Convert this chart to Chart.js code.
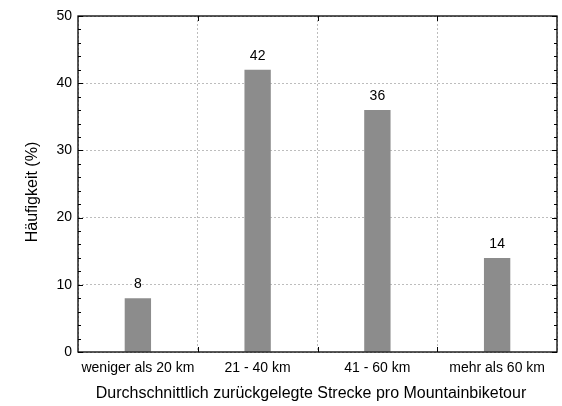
<!DOCTYPE html>
<html>
<head>
<meta charset="utf-8">
<script src="https://cdn.jsdelivr.net/npm/chart.js@4/dist/chart.umd.min.js"></script>
<style>
  html, body { margin: 0; padding: 0; background: #fff; }
  #wrap { width: 562px; height: 406px; }
</style>
</head>
<body>
<div id="wrap"><canvas id="c" width="562" height="406"></canvas></div>
<script>
// Durchschnittliche Strecke pro Mountainbiketour
const categories = ['weniger als 20 km', '21 - 40 km', '41 - 60 km', 'mehr als 60 km'];
const shares = [8, 42, 36, 14];
const yTicks = [0, 10, 20, 30, 40, 50];
const yMinorStep = 2;
const xTitle = 'Durchschnittlich zurückgelegte Strecke pro Mountainbiketour';
const yTitle = 'Häufigkeit (%)';

const FONT = 'Arial, "Liberation Sans", sans-serif';

// Frame, inward ticks, value labels and axis titles
const framePlugin = {
  id: 'frame',
  afterDatasetsDraw(chart) {
    const { ctx, chartArea: a, scales: { x, y } } = chart;
    ctx.save();
    ctx.strokeStyle = '#000';
    ctx.lineWidth = 1.3;
    ctx.strokeRect(a.left, a.top, a.right - a.left, a.bottom - a.top);

    ctx.lineWidth = 1;
    ctx.beginPath();
    for (let v = y.min; v <= y.max + 1e-9; v += yMinorStep) {
      const py = Math.round(y.getPixelForValue(v)) + 0.5;
      const major = yTicks.includes(v);
      const len = major ? 5 : 3;
      ctx.moveTo(a.left, py); ctx.lineTo(a.left + len, py);
      ctx.moveTo(a.right, py); ctx.lineTo(a.right - len, py);
    }
    // category boundary ticks along the bottom and top
    for (let i = 1; i < categories.length; i++) {
      const px = Math.round((x.getPixelForValue(i - 1) + x.getPixelForValue(i)) / 2) + 0.5;
      ctx.moveTo(px, a.bottom); ctx.lineTo(px, a.bottom - 5);
      ctx.moveTo(px, a.top); ctx.lineTo(px, a.top + 5);
    }
    ctx.stroke();

    // value labels
    ctx.fillStyle = '#000';
    ctx.font = '14px ' + FONT;
    ctx.textAlign = 'center';
    ctx.textBaseline = 'bottom';
    const meta = chart.getDatasetMeta(0);
    meta.data.forEach((bar, i) => {
      ctx.fillText(String(shares[i]), bar.x, bar.y - 7);
    });

    // axis titles
    ctx.font = '16px ' + FONT;
    ctx.textBaseline = 'middle';
    ctx.fillText(xTitle, 311, 394);
    ctx.translate(33, 192);
    ctx.rotate(-Math.PI / 2);
    ctx.fillText(yTitle, 0, 0);
    ctx.restore();
  }
};

new Chart(document.getElementById('c'), {
  type: 'bar',
  data: {
    labels: categories,
    datasets: [{
      data: shares,
      backgroundColor: '#8c8c8c',
      borderWidth: 0,
      barPercentage: 0.22,
      categoryPercentage: 1.0
    }]
  },
  options: {
    responsive: false,
    animation: false,
    devicePixelRatio: 1,
    layout: { padding: { left: 0, right: 5, top: 16, bottom: 0 } },
    plugins: { legend: { display: false }, tooltip: { enabled: false } },
    scales: {
      x: {
        offset: true,
        grid: {
          offset: true,
          color: '#bdbdbd',
          lineWidth: 1,
          drawTicks: false
        },
        border: { display: false, dash: [2, 2] },
        ticks: {
          color: '#000',
          font: { family: FONT, size: 14 },
          padding: 8,
          maxRotation: 0
        },
        afterFit(scale) { scale.height = 54; }
      },
      y: {
        min: 0,
        max: 50,
        afterBuildTicks(scale) { scale.ticks = yTicks.map(v => ({ value: v })); },
        grid: {
          color: '#bdbdbd',
          lineWidth: 1,
          drawTicks: false
        },
        border: { display: false, dash: [2, 2] },
        ticks: {
          color: '#000',
          font: { family: FONT, size: 14 },
          padding: 6
        },
        afterFit(scale) { scale.width = 78; }
      }
    }
  },
  plugins: [framePlugin]
});
</script>
</body>
</html>
